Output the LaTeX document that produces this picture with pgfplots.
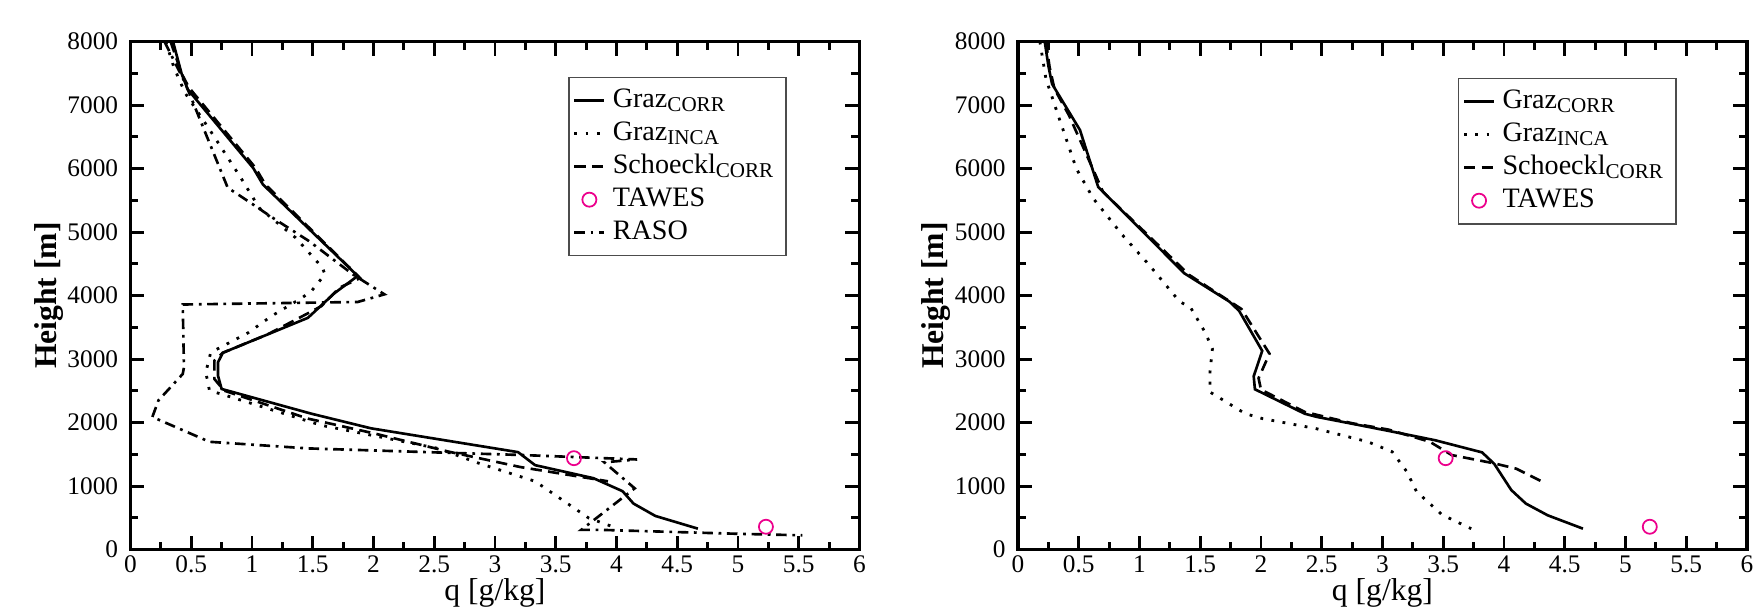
\documentclass[border=0pt]{standalone}
\usepackage{fontspec}
\setmainfont{Liberation Serif}
\usepackage{pgfplots}
\pgfplotsset{compat=1.18}

\pgfplotsset{
  profile/.style={
    scale only axis, width=72.9mm, height=50.8mm,
    xmin=0, xmax=6, ymin=0, ymax=8000,
    xtick={0,0.5,...,6}, ytick={0,1000,...,8000},
    minor x tick num=1, minor y tick num=1,
    tick align=inside,
    major tick length=1.4mm, minor tick length=0.8mm,
    every tick/.style={black, line width=0.8pt},
    axis line style={line width=1pt},
    scaled y ticks=false,
    /pgf/number format/set thousands separator={},
    /pgf/number format/assume math mode=true,
    tick label style={font=\fontsize{7.2}{8}\selectfont},
    xticklabel style={yshift=0.6mm},
    xlabel={q [g/kg]},
    ylabel={\bfseries Height [m]},
    label style={font=\fontsize{9}{10}\selectfont},
    xlabel style={yshift=1.9mm},
    ylabel style={yshift=-2.0mm},
    legend cell align=left,
    legend image code/.code={\draw[mark repeat=2,mark phase=2,##1] plot coordinates {(0cm,0cm) (0.15cm,0cm) (0.3cm,0cm)};},
    legend style={draw=black!70, line width=0.5pt, font=\fontsize{8}{8.5}\selectfont,
      inner sep=1.2pt, row sep=-1.5pt, anchor=north west},
  },
  corr/.style={black, line width=0.75pt},
  inca/.style={black, line width=0.8pt, dash pattern=on 0.8pt off 2.4pt},
  schk/.style={black, line width=0.75pt, dash pattern=on 3.2pt off 1.8pt},
  raso/.style={black, line width=0.75pt, dash pattern=on 3pt off 1.6pt on 0.8pt off 1.6pt},
  tawes/.style={only marks, mark=o, mark size=2pt, magenta, mark options={line width=0.5pt}},
}

\begin{document}
\begin{tikzpicture}
% left: with radiosonde
\begin{axis}[profile, legend style={at={(0.6,0.931)}}]
\addplot[corr] coordinates {
(0.35,8000) (0.42,7500) (0.47,7250) (1.01,6010) (1.09,5750) (1.87,4310) (1.68,4040) (1.46,3650) (1.13,3390) (0.76,3100) (0.72,2950) (0.72,2740) (0.75,2530) (1.49,2140) (1.98,1910) (3.19,1535) (3.33,1330) (3.81,1125) (4.05,920) (4.14,725) (4.32,530) (4.67,330)
};
\addlegendentry{Graz\textsubscript{CORR}}
\addplot[inca] coordinates {
(0.29,8000) (0.36,7580) (0.45,7190) (0.68,6530) (0.91,5850) (1.06,5380) (1.36,4910) (1.58,4440) (1.60,4335) (1.49,4073) (1.41,3964) (1.16,3677) (0.97,3417) (0.66,3104) (0.62,2792) (0.65,2505) (0.83,2401) (1.57,1958) (2.53,1594) (2.86,1365) (3.16,1180) (3.33,1076) (3.77,499) (3.97,360)
};
\addlegendentry{Graz\textsubscript{INCA}}
\addplot[schk] coordinates {
(0.33,8000) (0.42,7500) (0.48,7280) (1.03,6010) (1.11,5750) (1.89,4276) (1.72,4125) (1.57,3833) (1.39,3651) (1.13,3391) (0.76,3100) (0.69,2974) (0.69,2688) (0.77,2505) (1.46,2063) (2.01,1828) (2.62,1542) (3.21,1300) (3.93,1076)
};
\addlegendentry{Schoeckl\textsubscript{CORR}}
\addplot[tawes] coordinates {(3.65,1440) (5.23,360)};
\addlegendentry{TAWES}
\addplot[raso] coordinates {
(0.28,8000) (0.45,7350) (0.60,6640) (0.80,5700) (1.01,5434) (1.15,5251) (1.47,4858) (1.83,4335) (2.09,4020) (1.87,3900) (0.43,3860) (0.44,2870) (0.43,2766) (0.23,2350) (0.18,2089) (0.65,1698) (1.46,1594) (2.51,1531) (3.22,1490) (4.17,1420) (3.90,1375) (4.15,965) (3.71,311) (3.87,311) (4.98,250) (5.53,225)
};
\addlegendentry{RASO}
\end{axis}

% right: without radiosonde
\begin{axis}[profile, xshift=88.75mm, legend style={at={(0.603,0.929)}}]
\addplot[corr] coordinates {
(0.22,8000) (0.25,7620) (0.28,7335) (0.51,6608) (0.66,5712) (1.00,5060) (1.37,4350) (1.74,3906) (1.82,3760) (2.01,3130) (1.94,2730) (1.95,2525) (2.36,2140) (2.46,2090) (2.74,1986) (3.02,1881) (3.43,1724) (3.82,1531) (3.92,1350) (4.06,938) (4.18,725) (4.36,540) (4.65,330)
};
\addlegendentry{Graz\textsubscript{CORR}}
\addplot[inca] coordinates {
(0.18,8000) (0.23,7414) (0.34,6786) (0.48,6000) (0.62,5529) (0.86,4953) (1.08,4482) (1.33,3906) (1.42,3814) (1.54,3422) (1.60,3161) (1.58,2795) (1.58,2482) (1.87,2142) (2.01,2064) (2.45,1907) (2.88,1698) (3.08,1541) (3.20,1228) (3.28,914) (3.49,549) (3.73,330)
};
\addlegendentry{Graz\textsubscript{INCA}}
\addplot[schk] coordinates {
(0.23,8000) (0.26,7600) (0.30,7256) (0.42,6838) (0.70,5634) (1.41,4325) (1.84,3788) (2.07,3085) (1.98,2700) (2.00,2520) (2.36,2168) (2.75,1990) (3.05,1890) (3.39,1698) (3.57,1489) (3.92,1358) (4.10,1275) (4.32,1065)
};
\addlegendentry{Schoeckl\textsubscript{CORR}}
\addplot[tawes] coordinates {(3.52,1440) (5.20,360)};
\addlegendentry{TAWES}
\end{axis}

\pgfresetboundingbox
\path (-13.05mm,-6.44mm) rectangle (163.25mm,54.96mm);
\end{tikzpicture}
\end{document}
